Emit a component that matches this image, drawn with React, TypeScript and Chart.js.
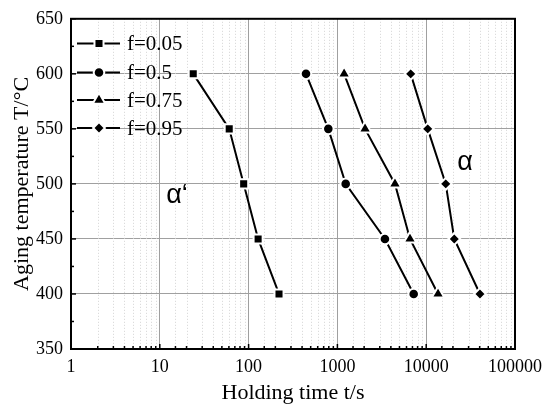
import React, { useEffect, useRef } from "react";
import { Chart, registerables } from "chart.js";
import { drawPoint } from "chart.js/helpers";

Chart.register(...registerables);

const temperatures = [600, 550, 500, 450, 400];
const timeF005 = [23.8, 60.5, 88, 128, 220];
const timeF05 = [443, 790, 1240, 3430, 7230];
const timeF075 = [1190, 2050, 4450, 6570, 13600];
const timeF095 = [6690, 10400, 16600, 20700, 40300];

const seriesLabels = ["f=0.05", "f=0.5", "f=0.75", "f=0.95"];
const seriesStyles = ["rect", "circle", "triangle", "rectRot"];
const seriesRadii = [6.4, 5.3, 7.3, 5.9];
const seriesTimes = [timeF005, timeF05, timeF075, timeF095];

const xTickValues = [1, 10, 100, 1000, 10000, 100000];
const xTitle = "Holding time t/s";
const yTitle = "Aging temperature T/°C";

const annotations = [
  { text: "α‘", x: 15.6, y: 489 },
  { text: "α", x: 27400, y: 519 },
];

const SERIF = "'Liberation Serif', 'Times New Roman', serif";
const SANS = "'Liberation Sans', Arial, sans-serif";

const isDecade = (v: number) => {
  const l = Math.log10(v);
  return Math.abs(l - Math.round(l)) < 1e-9;
};

const decorPlugin = {
  id: "decor",
  beforeDatasetsDraw(chart: any) {
    const { ctx, chartArea } = chart;
    const xs = chart.scales.x;
    ctx.save();
    ctx.strokeStyle = "#d4d4d4";
    ctx.lineWidth = 1;
    ctx.setLineDash([1, 2]);
    xs.ticks.forEach((t: any) => {
      if (isDecade(t.value)) return;
      const px = Math.round(xs.getPixelForValue(t.value)) + 0.5;
      ctx.beginPath();
      ctx.moveTo(px, chartArea.top);
      ctx.lineTo(px, chartArea.bottom);
      ctx.stroke();
    });
    ctx.restore();
  },
  afterDatasetsDraw(chart: any) {
    const { ctx, chartArea } = chart;
    const xs = chart.scales.x;
    const ys = chart.scales.y;
    ctx.save();
    ctx.setLineDash([]);
    ctx.strokeStyle = "#000";
    ctx.lineWidth = 1.5;
    xs.ticks.forEach((t: any) => {
      const px = xs.getPixelForValue(t.value);
      const len = isDecade(t.value) ? 5 : 3;
      ctx.beginPath();
      ctx.moveTo(px, chartArea.bottom);
      ctx.lineTo(px, chartArea.bottom - len);
      ctx.stroke();
    });
    for (let v = ys.min; v <= ys.max; v += 25) {
      const py = ys.getPixelForValue(v);
      const len = v % 50 === 0 ? 5 : 3;
      ctx.beginPath();
      ctx.moveTo(chartArea.left, py);
      ctx.lineTo(chartArea.left + len, py);
      ctx.stroke();
    }
    ctx.lineWidth = 2;
    ctx.strokeRect(
      chartArea.left,
      chartArea.top,
      chartArea.right - chartArea.left,
      chartArea.bottom - chartArea.top
    );
    const rowY = [43.5, 72.5, 100, 128];
    seriesLabels.forEach((lab, i) => {
      const y = rowY[i];
      ctx.lineWidth = 2;
      ctx.strokeStyle = "#000";
      ctx.beginPath();
      ctx.moveTo(chartArea.left + 6, y);
      ctx.lineTo(chartArea.left + 49, y);
      ctx.stroke();
      ctx.fillStyle = "#000";
      ctx.strokeStyle = "#fff";
      ctx.lineWidth = 2;
      drawPoint(
        ctx,
        { pointStyle: seriesStyles[i], radius: seriesRadii[i], borderWidth: 2, rotation: 0 } as any,
        chartArea.left + 28,
        y
      );
      ctx.font = `21px ${SERIF}`;
      ctx.textBaseline = "middle";
      ctx.textAlign = "left";
      ctx.fillStyle = "#000";
      ctx.fillText(lab, chartArea.left + 56, y + 1);
    });
    ctx.font = `27px ${SANS}`;
    ctx.textAlign = "center";
    ctx.textBaseline = "middle";
    ctx.fillStyle = "#000";
    annotations.forEach((a) => {
      ctx.fillText(a.text, xs.getPixelForValue(a.x), ys.getPixelForValue(a.y));
    });
    ctx.restore();
  },
};

export default function App() {
  const ref = useRef<HTMLCanvasElement | null>(null);
  useEffect(() => {
    document.body.style.margin = "0";
    if (!ref.current) return;
    const datasets = seriesLabels.map((lab, i) => ({
      label: lab,
      data: seriesTimes[i].map((t, j) => ({ x: t, y: temperatures[j] })),
      borderColor: "#000",
      backgroundColor: "#000",
      borderWidth: 2,
      pointStyle: seriesStyles[i],
      pointRadius: seriesRadii[i],
      pointBackgroundColor: "#000",
      pointBorderColor: "#fff",
      pointBorderWidth: 2,
      tension: 0,
    }));
    const chart = new Chart(ref.current, {
      type: "line",
      data: { datasets },
      options: {
        animation: false,
        responsive: false,
        layout: { padding: { left: 0, top: 18, right: 35, bottom: 0 } },
        plugins: { legend: { display: false }, tooltip: { enabled: false } },
        scales: {
          x: {
            type: "logarithmic",
            min: 1,
            max: 100000,
            afterFit: (s: any) => {
              s.height = 67;
            },
            grid: {
              drawTicks: false,
              color: (c: any) =>
                c.tick && isDecade(c.tick.value) ? "#a0a0a0" : "rgba(0,0,0,0)",
              lineWidth: 1,
            },
            border: { display: false },
            ticks: {
              autoSkip: false,
              maxRotation: 0,
              padding: 7,
              color: "#000",
              font: { family: SERIF, size: 18 },
              callback: (v: any) =>
                xTickValues.includes(Number(v)) ? String(v) : "",
            },
            title: {
              display: true,
              text: xTitle,
              color: "#000",
              font: { family: SERIF, size: 22 },
              padding: { top: 0, bottom: 10 },
            },
          },
          y: {
            type: "linear",
            min: 350,
            max: 650,
            afterFit: (s: any) => {
              s.width = 71;
            },
            grid: { drawTicks: false, color: "#a0a0a0", lineWidth: 1 },
            border: { display: false },
            ticks: {
              stepSize: 50,
              padding: 8,
              color: "#000",
              font: { family: SERIF, size: 18 },
            },
            title: {
              display: true,
              text: yTitle,
              color: "#000",
              font: { family: SERIF, size: 22 },
              padding: { top: 9, bottom: 0 },
            },
          },
        },
      },
      plugins: [decorPlugin],
    } as any);
    return () => chart.destroy();
  }, []);
  return (
    <div style={{ position: "absolute", left: 0, top: 0, width: 550, height: 416, background: "#fff" }}>
      <canvas ref={ref} width={550} height={416} />
    </div>
  );
}
